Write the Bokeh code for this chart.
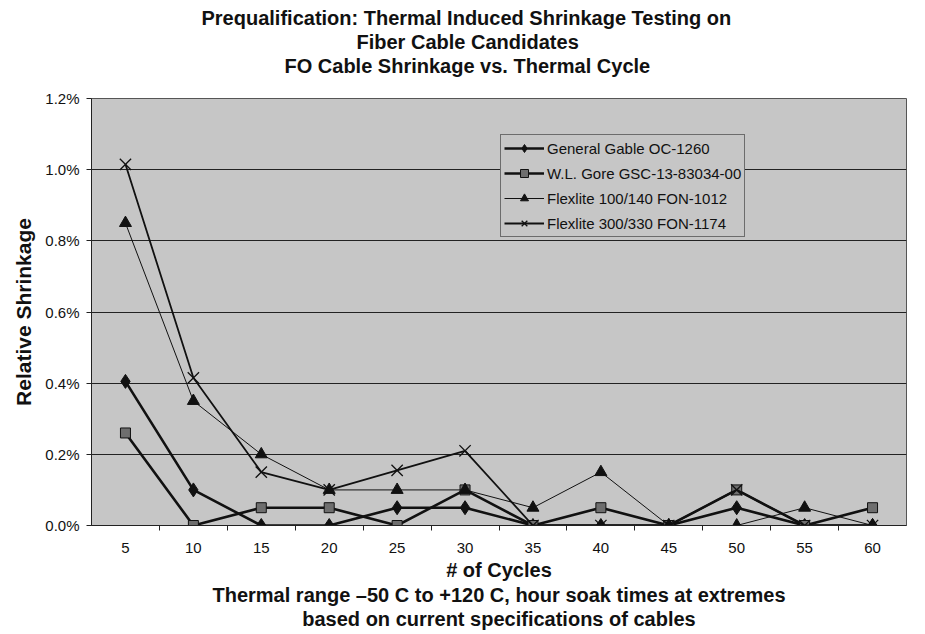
from bokeh.plotting import figure
from bokeh.models import Title, FixedTicker, PrintfTickFormatter, Range1d, Legend
from bokeh.embed import file_html
from bokeh.resources import INLINE

# ---- data ----
cycles = [5, 10, 15, 20, 25, 30, 35, 40, 45, 50, 55, 60]
general_gable = [0.405, 0.10, 0.0, 0.0, 0.05, 0.05, 0.0, 0.0, 0.0, 0.05, 0.0, 0.0]
wl_gore = [0.26, 0.0, 0.05, 0.05, 0.0, 0.10, 0.0, 0.05, 0.0, 0.10, 0.0, 0.05]
flexlite_100 = [0.85, 0.35, 0.20, 0.10, 0.10, 0.10, 0.05, 0.15, 0.0, 0.0, 0.05, 0.0]
flexlite_300 = [1.015, 0.415, 0.15, 0.10, 0.155, 0.21, 0.0, 0.0, 0.0, 0.10, 0.0, 0.0]
y_ticks = [0.0, 0.2, 0.4, 0.6, 0.8, 1.0, 1.2]
title_lines = ["Prequalification: Thermal Induced Shrinkage Testing on",
               "Fiber Cable Candidates",
               "FO Cable Shrinkage vs. Thermal Cycle"]
title_offsets = [110, 265, 193]
bottom_lines = ["Thermal range \u201350 C to +120 C, hour soak times at extremes",
                "based on current specifications of cables"]

FONT = "Liberation Sans"
BG = "#c6c6c6"
INK = "#111111"
BOLD_SIZE = "20px"

p = figure(width=917, height=634, output_backend="svg", toolbar_location=None,
           x_range=Range1d(2.5, 62.5), y_range=Range1d(0, 1.2),
           min_border_left=91, min_border_right=11, min_border_top=98, min_border_bottom=109)
p.title.visible = False

# spacer between frame and the title block
p.add_layout(Title(text=" ", text_font=FONT, text_font_size="18px", standoff=0), "above")
# titles above: added nearest-first
for txt, off in reversed(list(zip(title_lines, title_offsets))):
    p.add_layout(Title(text=txt, align="left", offset=off, text_font=FONT,
                       text_font_size=BOLD_SIZE, text_font_style="bold", text_color=INK,
                       standoff=-0.5), "above")

p.background_fill_color = BG
p.border_fill_color = "white"
p.outline_line_color = "#555555"
p.outline_line_width = 1

# grid
p.xgrid.visible = False
p.ygrid.ticker = FixedTicker(ticks=y_ticks)
p.ygrid.grid_line_color = "#222222"
p.ygrid.grid_line_width = 1

# x axis
p.xaxis.ticker = FixedTicker(ticks=cycles, minor_ticks=[c + 2.5 for c in cycles[:-1]])
p.xaxis.major_tick_out = 0
p.xaxis.major_tick_in = 0
p.xaxis.minor_tick_out = 5
p.xaxis.minor_tick_in = 0
p.xaxis.axis_line_color = "#222222"
p.xaxis.minor_tick_line_color = "#222222"
p.xaxis.major_label_text_font = FONT
p.xaxis.major_label_text_font_size = "15px"
p.xaxis.major_label_text_color = INK
p.xaxis.major_label_standoff = 12
p.xaxis.axis_label = "# of Cycles"
p.xaxis.axis_label_text_font = FONT
p.xaxis.axis_label_text_font_size = BOLD_SIZE
p.xaxis.axis_label_text_font_style = "bold"
p.xaxis.axis_label_text_color = INK
p.xaxis.axis_label_standoff = 3

# y axis
p.yaxis.ticker = FixedTicker(ticks=y_ticks)
p.yaxis.formatter = PrintfTickFormatter(format="%.1f%%")
p.yaxis.major_tick_out = 5
p.yaxis.major_tick_in = 0
p.yaxis.minor_tick_out = 0
p.yaxis.minor_tick_in = 0
p.yaxis.axis_line_color = "#222222"
p.yaxis.major_tick_line_color = "#222222"
p.yaxis.major_label_text_font = FONT
p.yaxis.major_label_text_font_size = "15px"
p.yaxis.major_label_text_color = INK
p.yaxis.major_label_standoff = 7
p.yaxis.axis_label = "Relative Shrinkage"
p.yaxis.axis_label_text_font = FONT
p.yaxis.axis_label_text_font_size = "21px"
p.yaxis.axis_label_text_font_style = "bold"
p.yaxis.axis_label_text_color = INK
p.yaxis.axis_label_standoff = 7

for txt, so in zip(bottom_lines, [-3, 1.5]):
    p.add_layout(Title(text=txt, align="center", text_font=FONT, text_font_size=BOLD_SIZE,
                       text_font_style="bold", text_color=INK, standoff=so), "below")

# series
l1 = p.line(cycles, general_gable, line_color=INK, line_width=2.6)
m1 = p.scatter(cycles, general_gable, marker="diamond", size=14, fill_color=INK,
               line_color=INK)
l2 = p.line(cycles, wl_gore, line_color=INK, line_width=2.6)
m2 = p.scatter(cycles, wl_gore, marker="square", size=10, fill_color="#6e6e6e",
               line_color=INK, line_width=1)
l3 = p.line(cycles, flexlite_100, line_color=INK, line_width=1)
m3 = p.scatter(cycles, flexlite_100, marker="triangle", size=12, fill_color=INK,
               line_color=INK)
l4 = p.line(cycles, flexlite_300, line_color=INK, line_width=1.8)
m4 = p.scatter(cycles, flexlite_300, marker="x", size=16, line_color=INK, line_width=1.3)

legend = Legend(items=[
    ("General Gable OC-1260", [l1, m1]),
    ("W.L. Gore GSC-13-83034-00", [l2, m2]),
    ("Flexlite 100/140 FON-1012", [l3, m3]),
    ("Flexlite 300/330 FON-1174", [l4, m4]),
], location=(409, 288))
legend.label_text_font = FONT
legend.label_text_font_size = "15px"
legend.label_text_color = INK
legend.background_fill_color = BG
legend.background_fill_alpha = 1.0
legend.border_line_color = INK
legend.border_line_width = 1
legend.glyph_width = 40
legend.glyph_height = 20
legend.label_height = 20
legend.spacing = 5
legend.padding = 3
legend.margin = 0
legend.label_standoff = 3
p.add_layout(legend, "center")

open("out.html", "w").write(file_html(p, INLINE))
